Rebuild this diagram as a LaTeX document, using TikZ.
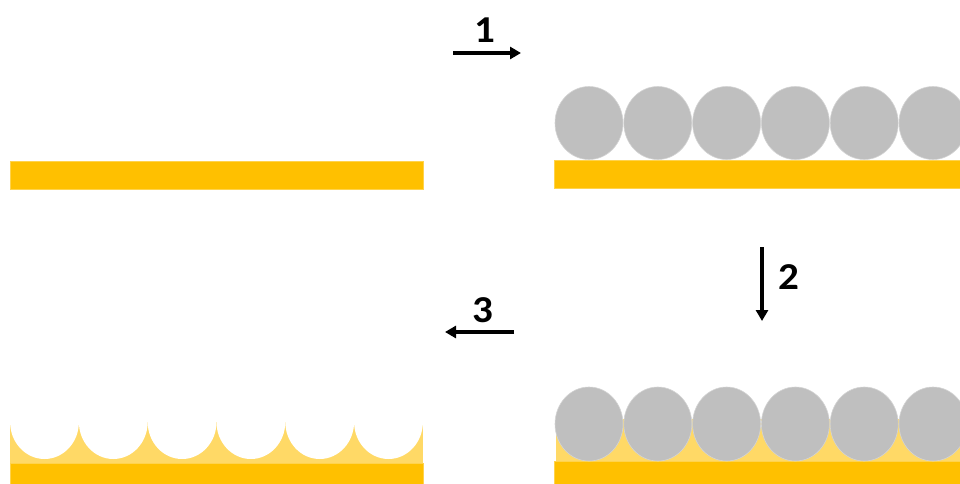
\documentclass[tikz,border=0pt]{standalone}
\usepackage{fontspec}
\setmainfont{Carlito}
\usetikzlibrary{arrows.meta}
\definecolor{gold}{HTML}{FFC000}
\definecolor{goldedge}{HTML}{FFD34D}
\definecolor{lightgold}{HTML}{FFD966}
\definecolor{ball}{HTML}{BFBFBF}
\definecolor{balledge}{HTML}{D4D4D4}
\tikzset{
  bar/.style={fill=gold, draw=goldedge, line width=0.8pt},
  layer/.style={fill=lightgold},
  sphere/.style={fill=ball, draw=balledge, line width=0.6pt},
  hole/.style={fill=white},
  stepArrow/.style={line width=3.3pt, -{Triangle[length=11pt,width=12pt]}},
  stepLabel/.style={font=\bfseries\fontsize{38}{38}\selectfont, inner sep=0pt, xscale=1.08},
}
\begin{document}
\begin{tikzpicture}[x=1pt,y=-1pt]
\useasboundingbox (0,0) rectangle (960,484);
% panel 1: substrate
\draw[bar] (10,161) rectangle (423,189);
% panel 2: spheres on substrate
\draw[bar] (554,160) rectangle (962,188);
\foreach \i in {0,...,5} {
  \draw[sphere] ({589+68.8*\i},123) ellipse [x radius=34, y radius=36.5];
}
% panel 3: infiltrated layer
\fill[layer] (556,419) rectangle (962,462);
\draw[bar] (554,461.5) rectangle (962,486);
\foreach \i in {0,...,5} {
  \draw[sphere] ({589+68.8*\i},424) ellipse [x radius=34, y radius=37];
}
% panel 4: inverse structure
\fill[layer] (10,422) rectangle (423,463.5);
\begin{scope}
  \clip (10,380) rectangle (423,463);
  \foreach \i in {0,...,5} {
    \fill[hole] ({44.5+68.8*\i},422) ellipse [x radius=34.4, y radius=37];
  }
\end{scope}
\draw[bar] (10,463.5) rectangle (423,486);
% arrows
\coordinate (a1s) at (453,53); \coordinate (a1e) at (521,53);
\coordinate (a2s) at (762,247); \coordinate (a2e) at (762,321);
\coordinate (a3s) at (514,332); \coordinate (a3e) at (445,332);
\draw[stepArrow] (a1s) -- (a1e);
\draw[stepArrow] (a2s) -- (a2e);
\draw[stepArrow] (a3s) -- (a3e);
\node[stepLabel] (l1) at (484.5,30.5) {1};
\node[stepLabel] (l2) at (789,277.5) {2};
\node[stepLabel] (l3) at (482.5,310) {3};
\end{tikzpicture}
\end{document}
